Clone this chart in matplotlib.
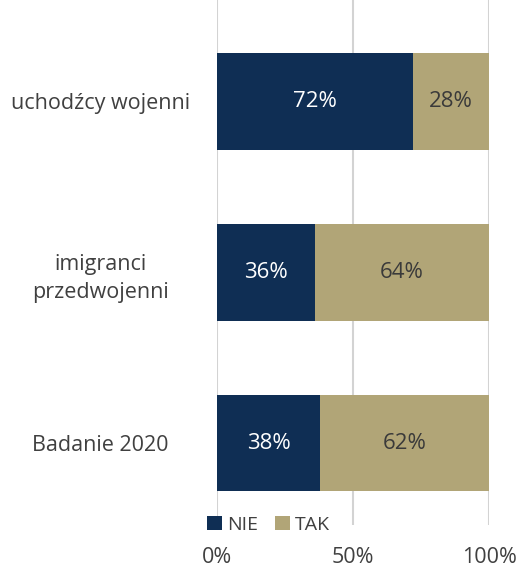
import matplotlib
matplotlib.use("Agg")
import matplotlib.pyplot as plt

# data
categories = ["uchodźcy wojenni", "imigranci\nprzedwojenni", "Badanie 2020"]
nie = [72, 36, 38]
tak = [28, 64, 62]
series_names = ["NIE", "TAK"]
colors = ["#0f2e54", "#b1a577"]

plt.rcParams['font.family'] = ['Open Sans', 'DejaVu Sans']

fig = plt.figure(figsize=(5.21, 5.70), dpi=100)
ax = fig.add_axes([217/521, 1 - 525/570, 272/521, 525/570])

y = range(len(categories))
ax.barh(y, nie, height=0.567, color=colors[0], label=series_names[0], zorder=3)
ax.barh(y, tak, left=nie, height=0.567, color=colors[1], label=series_names[1], zorder=3)

for i in y:
    ax.text(nie[i] / 2, i, f"{nie[i]}%", ha="center", va="center",
            color="white", fontsize=16, zorder=4)
    ax.text(nie[i] + tak[i] / 2, i, f"{tak[i]}%", ha="center", va="center",
            color="#3a3a3a", fontsize=16, zorder=4)

ax.set_xlim(0, 100)
ax.set_ylim(2.48, -0.594)
ax.set_xticks([0, 50, 100])
ax.set_xticklabels(["0%", "50%", "100%"], fontsize=15.5, color="#404040")
ax.set_yticks(list(y))
ax.set_yticklabels(categories, fontsize=15.5, color="#404040", ha="center",
                   linespacing=1.45)
ax.tick_params(axis="y", length=0, pad=84)
ax.tick_params(axis="x", length=0, pad=16)
ax.xaxis.grid(True, color="#d3d3d3", linewidth=1.5, zorder=0)
for s in ax.spines.values():
    s.set_visible(False)

ax.legend(loc="lower left", bbox_to_anchor=(-0.1, -0.05), ncol=2, frameon=False,
          fontsize=14, handlelength=0.75, handleheight=0.75, handletextpad=0.25,
          columnspacing=0.9, labelcolor="#404040")

fig.savefig("out.png", dpi=100)
